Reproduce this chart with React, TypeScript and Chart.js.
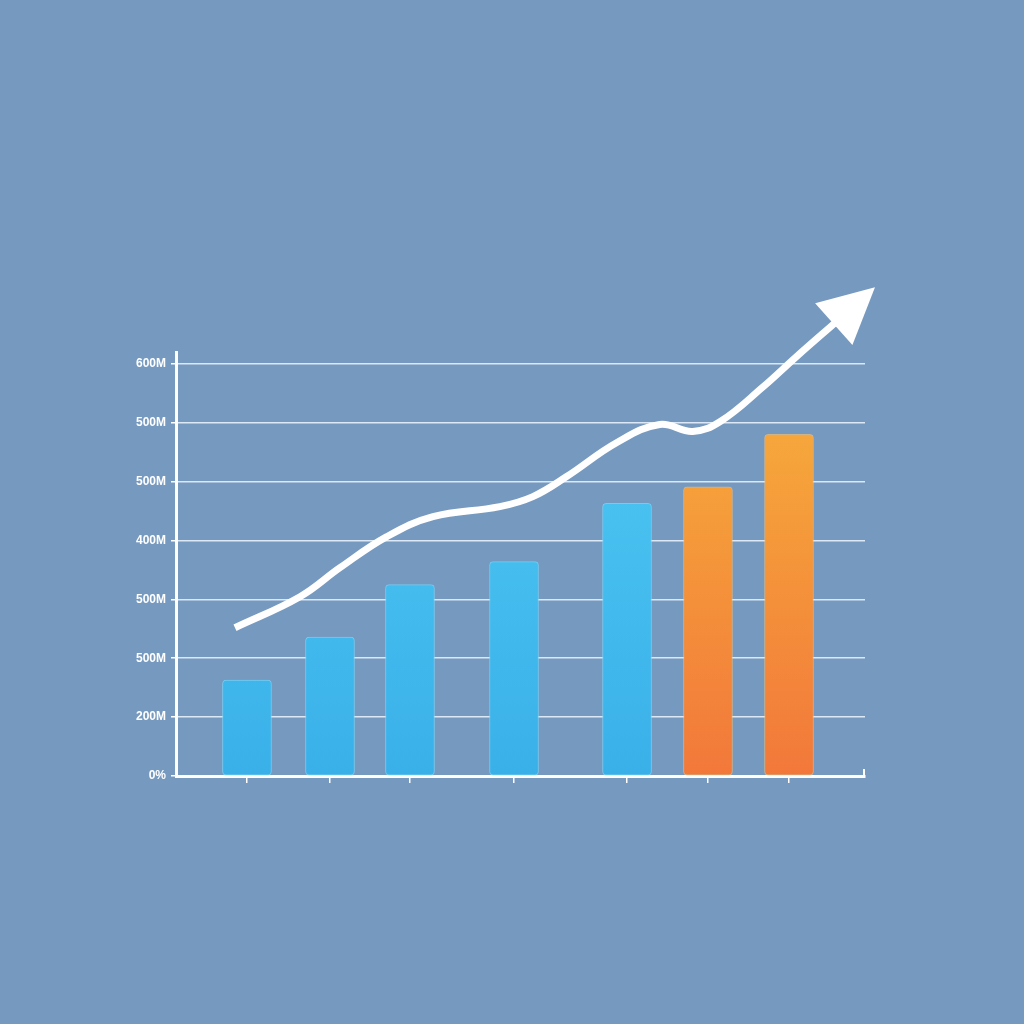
import React, { useEffect, useRef } from "react";
import { Chart, registerables } from "chart.js";

Chart.register(...registerables);

// y-axis tick values and the labels printed beside them
const yTickValues = [0, 100, 200, 300, 400, 500, 600, 700];
const yTickLabels = ["0%", "200M", "500M", "500M", "400M", "500M", "500M", "600M"];

// bar positions along the x axis and their heights
const barX = [10.3, 22.35, 33.96, 49.06, 65.46, 77.21, 88.97];
const barValues = [163, 236, 325, 364, 463, 491, 580];
const barKinds = ["blue", "blue", "blue", "blue", "blue", "orange", "orange"];

// trend line
const trendX = [8.56, 18.0, 23.8, 30.6, 37.3, 47.0, 51.8, 56.7, 64.0, 70.2, 75.0, 79.0, 85.2, 90.1, 95.9];
const trendY = [251.7, 304.4, 353.7, 406.5, 440.5, 457.5, 474.5, 508.5, 566.3, 596.9, 585.0, 602.0, 660.7, 712.6, 772.0];
const arrowTip = { x: 101.45, y: 830 };

const BG = "#7699C0";

const arrowPlugin = {
  id: "arrowHead",
  afterDatasetsDraw(chart: any) {
    const { ctx, scales, chartArea } = chart;
    const xs = scales.x;
    const ys = scales.y;
    const n = trendX.length;
    const bx = xs.getPixelForValue(trendX[n - 1]);
    const by = ys.getPixelForValue(trendY[n - 1]);
    const tx = xs.getPixelForValue(arrowTip.x);
    const ty = ys.getPixelForValue(arrowTip.y);
    const dx = tx - bx;
    const dy = ty - by;
    const len = Math.hypot(dx, dy);
    const ux = dx / len;
    const uy = dy / len;
    const half = 28;
    const back = 4;
    ctx.save();
    ctx.fillStyle = "#FFFFFF";
    ctx.beginPath();
    ctx.moveTo(tx, ty);
    ctx.lineTo(bx - ux * back - uy * half, by - uy * back + ux * half);
    ctx.lineTo(bx - ux * back + uy * half, by - uy * back - ux * half);
    ctx.closePath();
    ctx.fill();
    // small end tick at the right end of the x axis
    ctx.strokeStyle = "#FFFFFF";
    ctx.lineWidth = 2;
    ctx.beginPath();
    ctx.moveTo(chartArea.right - 1, chartArea.bottom);
    ctx.lineTo(chartArea.right - 1, chartArea.bottom - 7);
    ctx.stroke();
    ctx.restore();
  },
};

function barColor(ctx: any) {
  const chart = ctx.chart;
  const area = chart.chartArea;
  if (!area) return "#45BCEE";
  const kind = barKinds[ctx.dataIndex];
  const c = chart.ctx;
  const ys = chart.scales.y;
  const g = c.createLinearGradient(0, ys.getPixelForValue(600), 0, ys.getPixelForValue(0));
  if (kind === "orange") {
    g.addColorStop(0, "#F6A83B");
    g.addColorStop(1, "#F2783A");
  } else {
    g.addColorStop(0, "#4CC6F2");
    g.addColorStop(1, "#3AB0E9");
  }
  return g;
}

export default function App() {
  const canvasRef = useRef<HTMLCanvasElement | null>(null);

  useEffect(() => {
    document.body.style.margin = "0";
    document.body.style.background = BG;
    const canvas = canvasRef.current;
    if (!canvas) return;
    const chart = new Chart(canvas, {
      type: "bar",
      data: {
        datasets: [
          {
            type: "line",
            data: trendX.map((x, i) => ({ x, y: trendY[i] })),
            borderColor: "#FFFFFF",
            borderWidth: 7,
            tension: 0.4,
            pointRadius: 0,
            clip: false as any,
            borderCapStyle: "butt",
            borderJoinStyle: "round",
            order: 0,
          } as any,
          {
            type: "bar",
            data: barX.map((x, i) => ({ x, y: barValues[i] })),
            backgroundColor: barColor as any,
            borderColor: barKinds.map((k) => (k === "orange" ? "rgba(250,190,110,0.7)" : "rgba(120,215,250,0.8)")),
            borderWidth: 1,
            borderRadius: 4,
            borderSkipped: false,
            barThickness: 49,
            order: 1,
          } as any,
        ],
      },
      options: {
        animation: false,
        responsive: false,
        devicePixelRatio: 1,
        layout: { padding: { top: 352, right: 159, left: 0, bottom: 0 } },
        plugins: { legend: { display: false }, tooltip: { enabled: false } },
        scales: {
          x: {
            type: "linear",
            min: 0,
            max: 100,
            offset: false,
            afterBuildTicks: (scale: any) => {
              scale.ticks = barX.map((v) => ({ value: v }));
            },
            afterFit: (scale: any) => {
              scale.height = 248;
            },
            ticks: { callback: () => "", padding: 0 },
            grid: {
              offset: false,
              drawOnChartArea: false,
              drawTicks: true,
              tickLength: 7,
              tickColor: "#FFFFFF",
              lineWidth: 1.5,
            },
            border: { display: true, color: "#FFFFFF", width: 3 },
          },
          y: {
            type: "linear",
            min: 0,
            max: 720,
            afterBuildTicks: (scale: any) => {
              scale.ticks = yTickValues.map((v) => ({ value: v }));
            },
            afterFit: (scale: any) => {
              scale.width = 176;
            },
            ticks: {
              color: "#FFFFFF",
              padding: 5,
              font: { family: "Liberation Sans", size: 12, weight: "bold" as any },
              callback: (value: any) => {
                const i = yTickValues.indexOf(Number(value));
                return i >= 0 ? yTickLabels[i] : "";
              },
            },
            grid: {
              color: "rgba(225,236,248,0.95)",
              lineWidth: 1.5,
              tickLength: 5,
              tickColor: "#FFFFFF",
            },
            border: { display: true, color: "#FFFFFF", width: 3 },
          },
        },
      },
      plugins: [arrowPlugin],
    });
    return () => chart.destroy();
  }, []);

  return (
    <div style={{ position: "fixed", left: 0, top: 0, width: 1024, height: 1024, background: BG }}>
      <canvas ref={canvasRef} width={1024} height={1024} style={{ width: 1024, height: 1024, display: "block" }} />
    </div>
  );
}
